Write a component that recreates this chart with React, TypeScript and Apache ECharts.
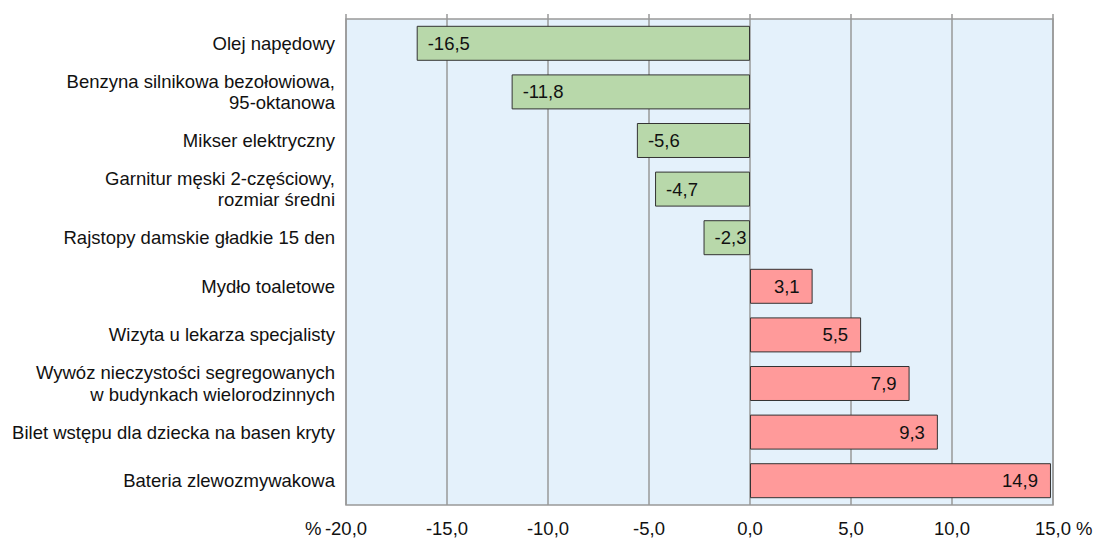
import React, { useEffect, useRef } from "react";
import * as echarts from "echarts";

const categories = [
  "Olej napędowy",
  "Benzyna silnikowa bezołowiowa,\n95-oktanowa",
  "Mikser elektryczny",
  "Garnitur męski 2-częściowy,\nrozmiar średni",
  "Rajstopy damskie gładkie 15 den",
  "Mydło toaletowe",
  "Wizyta u lekarza specjalisty",
  "Wywóz nieczystości segregowanych\nw budynkach wielorodzinnych",
  "Bilet wstępu dla dziecka na basen kryty",
  "Bateria zlewozmywakowa",
];
const values = [-16.5, -11.8, -5.6, -4.7, -2.3, 3.1, 5.5, 7.9, 9.3, 14.9];
const xTicks = { min: -20, max: 15, interval: 5 };
const unitLabel = "%";

const FONT = "'Liberation Sans', Arial, sans-serif";
const fmt = (v: number) => v.toFixed(1).replace(".", ",");

export default function App() {
  const ref = useRef<HTMLDivElement>(null);
  useEffect(() => {
    if (!ref.current) return;
    const chart = echarts.init(ref.current, undefined, { renderer: "svg" });
    chart.setOption({
      animation: false,
      textStyle: { fontFamily: FONT },
      grid: {
        left: 346,
        right: 41,
        top: 19,
        bottom: 32,
        show: true,
        backgroundColor: "#e4f1fb",
        borderColor: "#999999",
        borderWidth: 1.5,
      },
      xAxis: [
        {
          type: "value",
          min: xTicks.min,
          max: xTicks.max,
          interval: xTicks.interval,
          axisLine: { show: false },
          axisTick: { show: false },
          splitLine: { show: true, lineStyle: { color: "#999999", width: 1.5 } },
          axisLabel: {
            formatter: (v: number) => fmt(v),
            fontSize: 18.5,
            color: "#111",
            fontFamily: FONT,
            margin: 14,
          },
        },
        {
          type: "value",
          position: "top",
          min: xTicks.min,
          max: xTicks.max,
          interval: xTicks.interval,
          axisLine: { show: false },
          axisTick: { show: true, length: 5, lineStyle: { color: "#999999", width: 1.5 } },
          splitLine: { show: false },
          axisLabel: { show: false },
        },
      ],
      yAxis: {
        type: "category",
        data: categories,
        inverse: true,
        axisLine: { show: false },
        axisTick: { show: false },
        axisLabel: {
          fontSize: 18.5,
          lineHeight: 21.5,
          color: "#111",
          fontFamily: FONT,
          margin: 11,
          align: "right",
        },
      },
      graphic: [
        {
          type: "text",
          x: 305,
          y: 528,
          style: {
            text: unitLabel,
            fontSize: 18.5,
            fontFamily: FONT,
            fill: "#111",
            align: "left",
            verticalAlign: "middle",
          },
        },
        {
          type: "text",
          x: 1076,
          y: 528,
          style: {
            text: unitLabel,
            fontSize: 18.5,
            fontFamily: FONT,
            fill: "#111",
            align: "left",
            verticalAlign: "middle",
          },
        },
      ],
      series: [
        {
          type: "bar",
          xAxisIndex: 0,
          barCategoryGap: "28%",
          data: values.map((v) => ({
            value: v,
            itemStyle: {
              color: v < 0 ? "#b8d8aa" : "#ff9a9a",
              borderColor: "#333333",
              borderWidth: 1,
            },
            label: {
              show: true,
              position: v < 0 ? "insideLeft" : "insideRight",
              distance: v < 0 ? 11 : 13,
              formatter: () => fmt(v),
              fontSize: 18.5,
              color: "#111",
              fontFamily: FONT,
            },
          })),
        },
      ],
    });
    return () => chart.dispose();
  }, []);
  return (
    <div
      ref={ref}
      style={{ position: "absolute", left: 0, top: 0, width: 1094, height: 538 }}
    />
  );
}
